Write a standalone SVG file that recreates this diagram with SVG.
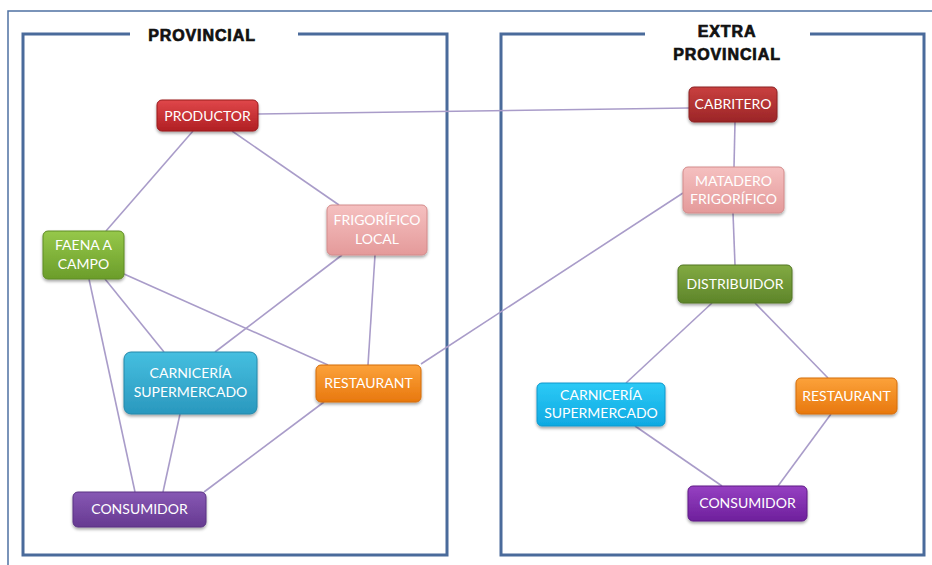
<svg xmlns="http://www.w3.org/2000/svg" width="932" height="565" viewBox="0 0 932 565">
<style>
.frame{fill:none;stroke:#4a6b9b;stroke-width:3}
.outer{fill:none;stroke:#4f72a3;stroke-width:1.5}
.title{font-family:"Liberation Sans",Arial,sans-serif;font-weight:900;font-size:16px;fill:#111;stroke:#111;stroke-width:0.7;text-anchor:middle;letter-spacing:0.9px}
.lbl{font-family:Lato,"Open Sans",sans-serif;font-size:14px;fill:#fff;text-anchor:middle}
.edge{stroke:#a99cc9;stroke-width:1.6;fill:none}
.box{stroke-width:1}
</style>
<defs>
<filter id="sh" x="-20%" y="-20%" width="140%" height="150%"><feDropShadow dx="0" dy="2" stdDeviation="1.5" flood-color="#000" flood-opacity="0.35"/></filter>
<linearGradient id="gRed" x1="0" y1="0" x2="0" y2="1"><stop offset="0" stop-color="#e0474a"/><stop offset="1" stop-color="#b01f23"/></linearGradient>
<linearGradient id="gRed2" x1="0" y1="0" x2="0" y2="1"><stop offset="0" stop-color="#c9403f"/><stop offset="1" stop-color="#9b2527"/></linearGradient>
<linearGradient id="gGreen" x1="0" y1="0" x2="0" y2="1"><stop offset="0" stop-color="#96c84a"/><stop offset="1" stop-color="#6b9d2a"/></linearGradient>
<linearGradient id="gGreen2" x1="0" y1="0" x2="0" y2="1"><stop offset="0" stop-color="#82aa42"/><stop offset="1" stop-color="#5e852a"/></linearGradient>
<linearGradient id="gPink" x1="0" y1="0" x2="0" y2="1"><stop offset="0" stop-color="#f5c0c0"/><stop offset="1" stop-color="#e49a9a"/></linearGradient>
<linearGradient id="gBlue" x1="0" y1="0" x2="0" y2="1"><stop offset="0" stop-color="#45bfe0"/><stop offset="1" stop-color="#2a98be"/></linearGradient>
<linearGradient id="gCyan" x1="0" y1="0" x2="0" y2="1"><stop offset="0" stop-color="#2ccaf6"/><stop offset="1" stop-color="#0fa9e2"/></linearGradient>
<linearGradient id="gOrange" x1="0" y1="0" x2="0" y2="1"><stop offset="0" stop-color="#fca23a"/><stop offset="1" stop-color="#e8780e"/></linearGradient>
<linearGradient id="gPurple" x1="0" y1="0" x2="0" y2="1"><stop offset="0" stop-color="#8758b4"/><stop offset="1" stop-color="#663a91"/></linearGradient>
<linearGradient id="gPurple2" x1="0" y1="0" x2="0" y2="1"><stop offset="0" stop-color="#9640c2"/><stop offset="1" stop-color="#6e209c"/></linearGradient>
</defs>
<rect width="932" height="565" fill="#fff"/>
<g id="frames">
<path class="outer" d="M8,565 V11 H932"/>
<path class="frame" d="M130,34 H23 V555 H447 V34 H298"/>
<path class="frame" d="M645,34 H501 V555 H924 V34 H810"/>
<text class="title" x="202" y="41">PROVINCIAL</text>
<text class="title" x="727" y="37">EXTRA</text>
<text class="title" x="727" y="60">PROVINCIAL</text>
</g>
<g id="connectors">
<line class="edge" x1="258" y1="114" x2="689" y2="108"/>
<line class="edge" x1="193" y1="131" x2="106" y2="231"/>
<line class="edge" x1="232" y1="131" x2="339" y2="205"/>
<line class="edge" x1="124" y1="274" x2="328" y2="365"/>
<line class="edge" x1="105" y1="279" x2="164" y2="352"/>
<line class="edge" x1="89" y1="279" x2="135" y2="492"/>
<line class="edge" x1="342" y1="255" x2="215" y2="352"/>
<line class="edge" x1="375" y1="255" x2="368" y2="365"/>
<line class="edge" x1="180" y1="414" x2="163" y2="492"/>
<line class="edge" x1="324" y1="402" x2="204" y2="492"/>
<line class="edge" x1="421" y1="364" x2="683" y2="193"/>
<line class="edge" x1="735" y1="122" x2="734" y2="167"/>
<line class="edge" x1="733" y1="213" x2="735" y2="265"/>
<line class="edge" x1="712" y1="303" x2="626" y2="383"/>
<line class="edge" x1="755" y1="303" x2="828" y2="378"/>
<line class="edge" x1="635" y1="426" x2="722" y2="486"/>
<line class="edge" x1="831" y1="414" x2="778" y2="486"/>
</g>
<g id="n-productor">
<rect class="box" x="157" y="100" width="101" height="31" rx="5" fill="url(#gRed)" stroke="#9a1a1d" filter="url(#sh)"/>
<text class="lbl" x="207.5" y="120.5">PRODUCTOR</text>
</g>
<g id="n-faena">
<rect class="box" x="43" y="231" width="81" height="48" rx="5" fill="url(#gGreen)" stroke="#5f8b25" filter="url(#sh)"/>
<text class="lbl" x="83.5" y="250">FAENA A</text>
<text class="lbl" x="83.5" y="269">CAMPO</text>
</g>
<g id="n-frigorifico">
<rect class="box" x="327" y="205" width="100" height="50" rx="5" fill="url(#gPink)" stroke="#d38b8b" filter="url(#sh)"/>
<text class="lbl" x="377" y="225">FRIGORÍFICO</text>
<text class="lbl" x="377" y="244">LOCAL</text>
</g>
<g id="n-carniceria-p">
<rect class="box" x="124" y="352" width="133" height="62" rx="7" fill="url(#gBlue)" stroke="#2588aa" filter="url(#sh)"/>
<text class="lbl" x="190.5" y="378">CARNICERÍA</text>
<text class="lbl" x="190.5" y="397">SUPERMERCADO</text>
</g>
<g id="n-restaurant-p">
<rect class="box" x="316" y="365" width="105" height="37" rx="5" fill="url(#gOrange)" stroke="#d46d0c" filter="url(#sh)"/>
<text class="lbl" x="368.5" y="388">RESTAURANT</text>
</g>
<g id="n-consumidor-p">
<rect class="box" x="73" y="492" width="133" height="35" rx="5" fill="url(#gPurple)" stroke="#5a3283" filter="url(#sh)"/>
<text class="lbl" x="139.5" y="514">CONSUMIDOR</text>
</g>
<g id="n-cabritero">
<rect class="box" x="689" y="87" width="88" height="35" rx="5" fill="url(#gRed2)" stroke="#8a2022" filter="url(#sh)"/>
<text class="lbl" x="733" y="109">CABRITERO</text>
</g>
<g id="n-matadero">
<rect class="box" x="683" y="167" width="101" height="46" rx="5" fill="url(#gPink)" stroke="#d38b8b" filter="url(#sh)"/>
<text class="lbl" x="733.5" y="186">MATADERO</text>
<text class="lbl" x="733.5" y="204">FRIGORÍFICO</text>
</g>
<g id="n-distribuidor">
<rect class="box" x="678" y="265" width="114" height="38" rx="5" fill="url(#gGreen2)" stroke="#527624" filter="url(#sh)"/>
<text class="lbl" x="735" y="289">DISTRIBUIDOR</text>
</g>
<g id="n-carniceria-e">
<rect class="box" x="537" y="383" width="128" height="43" rx="5" fill="url(#gCyan)" stroke="#0e98cc" filter="url(#sh)"/>
<text class="lbl" x="601" y="400">CARNICERÍA</text>
<text class="lbl" x="601" y="418">SUPERMERCADO</text>
</g>
<g id="n-restaurant-e">
<rect class="box" x="796" y="378" width="101" height="36" rx="5" fill="url(#gOrange)" stroke="#d46d0c" filter="url(#sh)"/>
<text class="lbl" x="846.5" y="400.5">RESTAURANT</text>
</g>
<g id="n-consumidor-e">
<rect class="box" x="688" y="486" width="119" height="35" rx="5" fill="url(#gPurple2)" stroke="#5e1a85" filter="url(#sh)"/>
<text class="lbl" x="747.5" y="508">CONSUMIDOR</text>
</g>
</svg>
